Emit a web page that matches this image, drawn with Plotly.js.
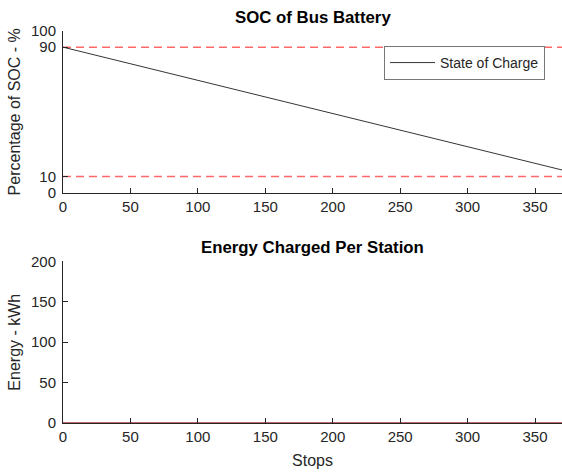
<!DOCTYPE html>
<html><head><meta charset="utf-8">
<script src="https://cdn.plot.ly/plotly-3.0.1.min.js"></script>
<style>body{margin:0;background:#fff}#c{width:562px;height:473px}</style>
</head><body><div id="c"></div>
<script>
var stops = [0, 370];
var soc = [90, 14];
var energy = [0, 0];
var limits = [90, 10];
var xTicks = [0, 50, 100, 150, 200, 250, 300, 350];
var socTicks = [0, 10, 90, 100];
var energyTicks = [0, 50, 100, 150, 200];

var traces = [
  {x: stops, y: soc, mode: 'lines', name: 'State of Charge', line: {color: '#000000', width: 0.8}, xaxis: 'x', yaxis: 'y', showlegend: true}
];
limits.forEach(function (v) {
  traces.push({x: stops, y: [v, v], mode: 'lines', line: {color: 'rgba(255,40,40,0.7)', width: 1.5, dash: '8px,5px'}, xaxis: 'x', yaxis: 'y', showlegend: false, hoverinfo: 'skip'});
});
traces.push({x: stops, y: energy, mode: 'lines', line: {color: '#b0303a', width: 1.5}, xaxis: 'x2', yaxis: 'y2', showlegend: false});

var FAM = 'Liberation Sans, Arial, sans-serif';
var font = {family: FAM, size: 15, color: '#262626'};
var titleFont = {family: FAM, size: 16, color: '#262626'};
function ax(extra) {
  var a = {showgrid: false, zeroline: false, showline: true, linecolor: '#262626', linewidth: 1,
    ticks: 'inside', ticklen: 5, tickcolor: '#262626', tickfont: font, mirror: false};
  for (var k in extra) a[k] = extra[k];
  return a;
}
var layout = {
  width: 562, height: 473,
  margin: {l: 63, r: 0, t: 31, b: 50},
  paper_bgcolor: '#fff', plot_bgcolor: '#fff',
  font: font,
  showlegend: true,
  legend: {x: 0.966, xanchor: 'right', y: 0.9618, yanchor: 'top', bordercolor: '#777', borderwidth: 1, bgcolor: '#fff', itemwidth: 45,
    font: {family: FAM, size: 14, color: '#262626'}, tracegroupgap: 0},
  xaxis: ax({domain: [0, 1], range: [0, 370], tickvals: xTicks, showticklabels: true, anchor: 'y'}),
  yaxis: ax({domain: [0.5878, 1], range: [0, 100], tickvals: socTicks, anchor: 'x', ticklabelstandoff: 3,
    title: {text: 'Percentage of SOC - %', font: titleFont, standoff: 6}}),
  xaxis2: ax({domain: [0, 1], range: [0, 370], tickvals: xTicks, anchor: 'y2',
    title: {text: 'Stops', font: titleFont, standoff: 10}}),
  yaxis2: ax({domain: [0, 0.4122], range: [0, 200], tickvals: energyTicks, anchor: 'x2', ticklabelstandoff: 3,
    title: {text: 'Energy - kWh', font: titleFont, standoff: 6}}),
  annotations: [
    {text: '<b>SOC of Bus Battery</b>', xref: 'paper', yref: 'paper', x: 0.5, y: 1, yshift: 2, xanchor: 'center', yanchor: 'bottom', showarrow: false, font: {family: FAM, size: 16.8, color: '#000'}},
    {text: '<b>Energy Charged Per Station</b>', xref: 'paper', yref: 'paper', x: 0.5, y: 0.4122, yshift: 2, xanchor: 'center', yanchor: 'bottom', showarrow: false, font: {family: FAM, size: 16.8, color: '#000'}}
  ]
};
Plotly.newPlot('c', traces, layout, {displayModeBar: false, staticPlot: true});
</script></body></html>
